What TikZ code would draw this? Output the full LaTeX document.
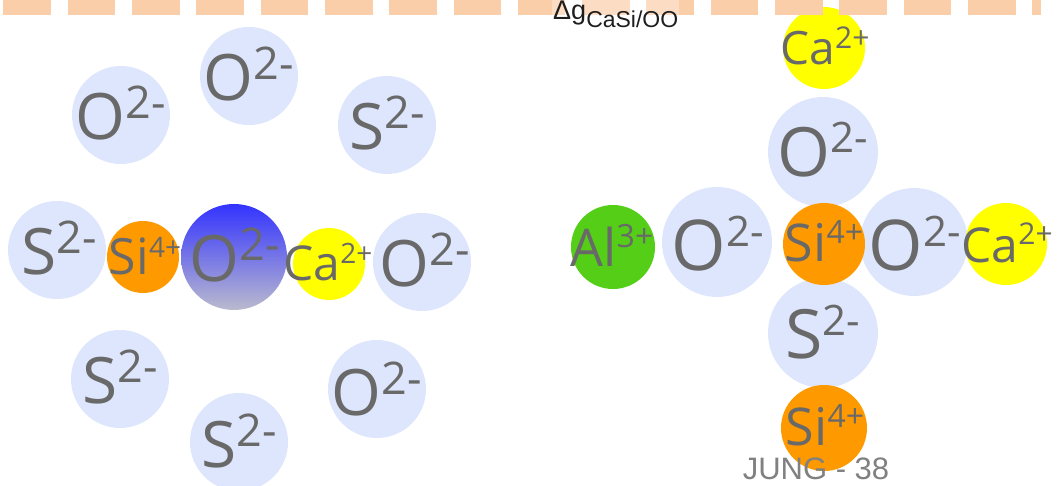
\documentclass[tikz,border=0pt]{standalone}
\usepackage{fontspec}
\setmainfont{Open Sans}
\newfontfamily\arialf{Liberation Sans}
\definecolor{lblue}{RGB}{221,230,252}
\definecolor{ionorange}{RGB}{255,153,0}
\definecolor{ionyellow}{RGB}{255,255,0}
\definecolor{iongreen}{RGB}{84,206,22}
\definecolor{blutop}{RGB}{51,51,255}
\definecolor{blubot}{RGB}{186,186,206}
\definecolor{txtgray}{RGB}{105,105,105}
\definecolor{peach}{RGB}{251,206,170}
\definecolor{footgray}{RGB}{128,128,128}
\definecolor{dgtext}{RGB}{30,30,30}
\newcommand{\ionlab}[5]{\fontsize{#3}{#3}\selectfont #1\raisebox{#5pt}{\fontsize{#4}{#4}\selectfont #2}}
\begin{document}
\begin{tikzpicture}[x=1pt,y=-1pt,
  ball/.style={circle, inner sep=0pt, draw=none, minimum size=#1},
  anion/.style={ball=#1, fill=lblue},
  lab/.style={anchor=base, inner sep=0pt, text=txtgray}]
\useasboundingbox (0,0) rectangle (1063,486);
% ---------- left cluster ----------
\node[anion=98pt] (oA) at (121,115) {};
\node[anion=98pt] (oB) at (249,76) {};
\node[anion=98pt] (sA) at (387,125) {};
\node[anion=98pt] (sB) at (57,250) {};
\node[anion=98pt] (oD) at (422,262) {};
\node[anion=98pt] (sC) at (120,379) {};
\node[anion=98pt] (sD) at (239,442) {};
\node[anion=98pt] (oE) at (377,389) {};
\node[ball=72pt, fill=ionorange] (siL) at (143,257) {};
\node[ball=106pt, top color=blutop, bottom color=blubot] (oC) at (234,257) {};
\node[ball=72pt, fill=ionyellow] (caL) at (329,264) {};
\node[lab] (toA) at (121,140) {\ionlab{O}{2-}{64}{45}{21}};
\node[lab] (toB) at (249,101) {\ionlab{O}{2-}{64}{45}{21}};
\node[lab] (tsA) at (387,150) {\ionlab{S}{2-}{64}{45}{21}};
\node[lab] (tsB) at (59,275) {\ionlab{S}{2-}{64}{45}{21}};
\node[lab] (toD) at (425,287) {\ionlab{O}{2-}{64}{45}{21}};
\node[lab] (tsC) at (120,403) {\ionlab{S}{2-}{64}{45}{21}};
\node[lab] (tsD) at (239,467) {\ionlab{S}{2-}{64}{45}{21}};
\node[lab] (toE) at (377,415) {\ionlab{O}{2-}{64}{45}{21}};
\node[lab] (tsiL) at (145,275) {\ionlab{Si}{4+}{50}{28}{17}};
\node[lab] (toC) at (235,282) {\ionlab{O}{2-}{64}{45}{21}};
\node[lab] (tcaL) at (328,281) {\ionlab{Ca}{2+}{48}{28}{17}};
% ---------- right cluster ----------
\node[anion=110pt] (oF) at (823,152) {};
\node[anion=110pt] (oG) at (717,242) {};
\node[anion=108pt] (oH) at (914,242) {};
\node[anion=110pt] (sE) at (823,333) {};
\node[ball=82pt, fill=ionorange] (siR) at (824,244) {};
\node[ball=86pt, fill=ionorange] (siB) at (824,428) {};
\node[ball=82pt, fill=ionyellow] (caR) at (1006,244) {};
\node[ball=82pt, fill=ionyellow] (caT) at (824,48) {};
\node[ball=84pt, fill=iongreen] (alR) at (613,247) {};
\node[lab] (toF) at (823,177) {\ionlab{O}{2-}{68}{42}{24}};
\node[lab] (toG) at (718,271) {\ionlab{O}{2-}{70}{42}{24}};
\node[lab] (toH) at (915,271) {\ionlab{O}{2-}{70}{42}{24}};
\node[lab] (tsE) at (823,359) {\ionlab{S}{2-}{68}{42}{24}};
\node[lab] (tsiR) at (824,262) {\ionlab{Si}{4+}{52}{32}{18}};
\node[lab] (tsiB) at (825,445) {\ionlab{Si}{4+}{52}{32}{18}};
\node[lab] (tcaR) at (1007,263) {\ionlab{Ca}{2+}{48}{30}{18}};
\node[lab] (tcaT) at (825,65) {\ionlab{Ca}{2+}{46}{30}{16}};
\node[lab] (talR) at (612,267) {\ionlab{Al}{3+}{52}{32}{19}};
% ---------- top dashed band ----------
\draw[peach, line width=15pt, dash pattern=on 47.6pt off 16.7pt] (3.4,7.5) -- (1041,7.5);
\node[anchor=base west, inner sep=1pt, fill=white, fill opacity=0.3, text opacity=1,
      font=\arialf, text=dgtext] (dg) at (552,20)
  {\fontsize{27}{27}\selectfont Δg\raisebox{-8pt}{\fontsize{23}{23}\selectfont CaSi/OO}};
% ---------- footer ----------
\node[anchor=base, inner sep=0pt, font=\arialf\fontsize{31}{31}\selectfont, text=footgray] (foot) at (816,479) {JUNG - 38};
\end{tikzpicture}
\end{document}
